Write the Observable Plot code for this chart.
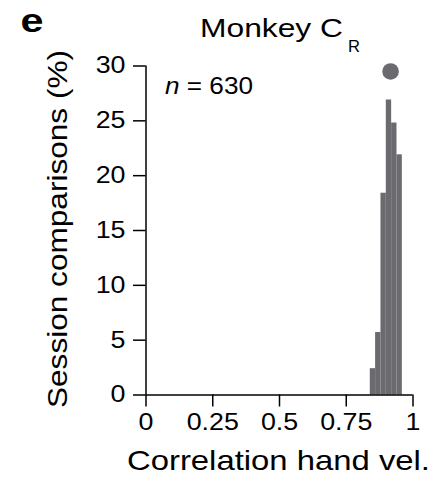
<!DOCTYPE html>
<html><head><meta charset="utf-8">
<style>body{margin:0;background:#fff} svg{display:block}</style>
<script src="https://cdn.jsdelivr.net/npm/d3@7"></script>
<script src="https://cdn.jsdelivr.net/npm/@observablehq/plot@0.6"></script>
</head><body><div id="chart"></div>
<script>
// ---- data ----
const binStart = [0.84, 0.86, 0.88, 0.90, 0.92, 0.94];
const binEnd   = [0.86, 0.88, 0.90, 0.92, 0.94, 0.96];
const percent  = [2.4, 5.7, 18.4, 26.9, 24.8, 21.9];
const medianX  = [0.916];
const medianY  = [29.5];
const nLabel   = "630";
const xTicks = [0, 0.25, 0.5, 0.75, 1];
const xTickLabels = ["0", "0.25", "0.5", "0.75", "1"];
const yTicks = [0, 5, 10, 15, 20, 25, 30];
const titleText = "Monkey C";
const titleSub = "R";
const xLabel = "Correlation hand vel.";
const yLabel = "Session comparisons (%)";
const panelLetter = "e";

const FONT = "'Liberation Sans', Arial, Helvetica, sans-serif";
const GRAY = "#6a6a6f";
const bars = binStart.map((s, i) => ({x1: s, x2: binEnd[i], y: percent[i]}));
const medPts = medianX.map((x, i) => ({x, y: medianY[i]}));

const chart = Plot.plot({
  width: 442, height: 479,
  marginLeft: 145.5, marginRight: 29.5, marginTop: 65.5, marginBottom: 84.5,
  style: {fontFamily: FONT, background: "#fff", color: "#000", overflow: "hidden"},
  x: {domain: [0, 1]},
  y: {domain: [0, 30]},
  marks: [
    Plot.rectY(bars, {x1: "x1", x2: "x2", y: "y", fill: GRAY, inset: 0}),
    Plot.dot(medPts, {x: "x", y: "y", r: 8.3, fill: GRAY, stroke: "none"}),
    Plot.axisX({ticks: xTicks, tickFormat: d => xTickLabels[xTicks.indexOf(d)], tickSize: 12, tickPadding: 6, fontSize: 23.3, strokeWidth: 1.5, label: null}),
    Plot.axisY({ticks: yTicks, tickSize: 12.5, tickPadding: 8, fontSize: 23.3, strokeWidth: 1.5, label: null}),
    Plot.ruleX([0], {strokeWidth: 1.5}),
    Plot.ruleY([0], {strokeWidth: 1.5})
  ]
});
document.getElementById("chart").append(chart);

const svg = d3.select(chart);
const xs = chart.scale("x");

function addText(x, y, size, str, len, opts = {}) {
  const t = svg.append("text").attr("x", x).attr("y", y).attr("font-size", size)
    .attr("font-family", FONT).attr("text-anchor", opts.anchor || "start").attr("fill", "#000");
  if (opts.weight) t.attr("font-weight", opts.weight);
  if (opts.transform) t.attr("transform", opts.transform);
  if (len) t.attr("textLength", len).attr("lengthAdjust", "spacingAndGlyphs");
  if (str != null) t.text(str);
  return t;
}

// panel letter
addText(20.5, 32, 34, panelLetter, 23, {weight: "bold"});
// title with subscript
addText(200, 36.7, 25.6, titleText, 143);
addText(348, 51.7, 16, titleSub, 12);
// n label
const nt = addText(xs.apply(0.073), 94, 23, null, 88);
nt.append("tspan").attr("font-style", "italic").text("n");
nt.append("tspan").text(" = " + nLabel);
// axis labels
addText(278.5, 470, 28, xLabel, 303, {anchor: "middle"});
addText(0, 0, 27.5, yLabel, 358, {anchor: "middle", transform: "translate(67,229) rotate(-90)"});

// widen remaining (tick) texts to match the reference's wider lettering
svg.selectAll("text").each(function() {
  if (!this.hasAttribute("textLength")) {
    const L = this.getComputedTextLength();
    if (L > 0) {
      this.setAttribute("textLength", L * 1.15);
      this.setAttribute("lengthAdjust", "spacingAndGlyphs");
    }
  }
});
</script></body></html>
